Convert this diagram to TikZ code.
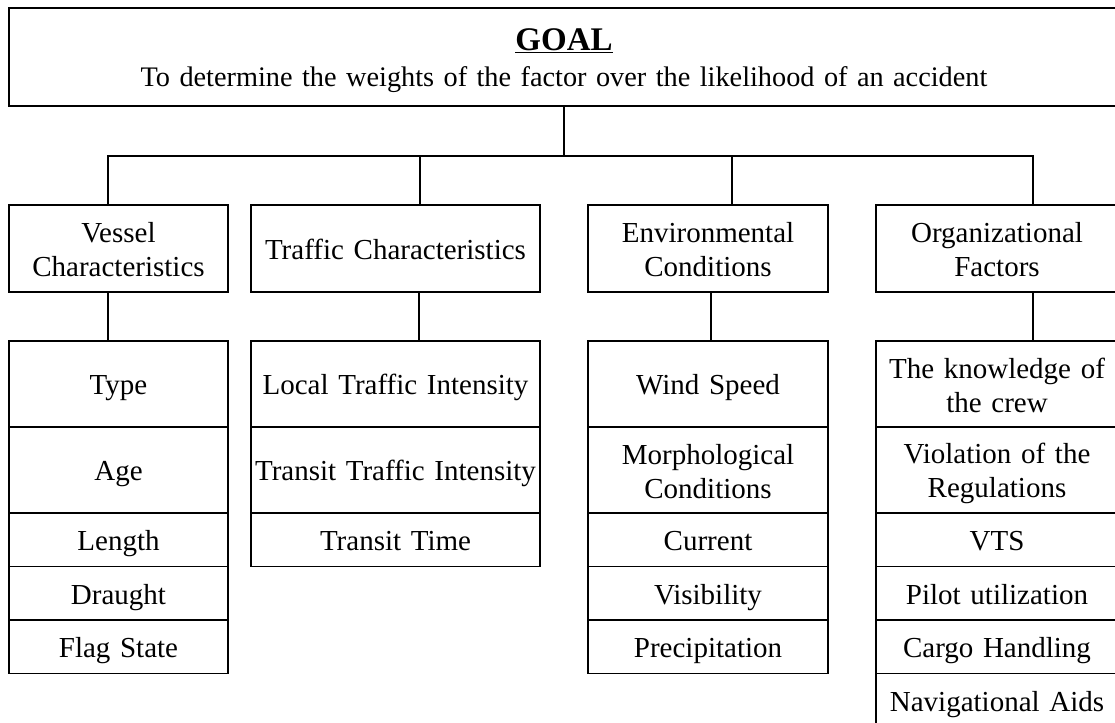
\documentclass[tikz,border=0pt]{standalone}
\usepackage{fontspec}
\setmainfont{Liberation Serif}
\usetikzlibrary{positioning}

\tikzset{
  box/.style={draw, line width=1.7pt, align=center, inner xsep=0pt, inner ysep=0pt,
    outer sep=0pt, font=\fontsize{29}{34}\selectfont,
    execute at begin node={\rule{0pt}{28pt}},
    execute at end node={\rule[-6pt]{0pt}{0pt}}},
  head/.style={box, minimum height=87pt},
  tall/.style={box, minimum height=86pt},
  short/.style={box, minimum height=53.5pt},
  link/.style={line width=1.7pt},
}

\begin{document}
\begin{tikzpicture}[x=1pt, y=-1pt]
      \useasboundingbox (0,0) rectangle (1115,722);
      \clip (0,0) rectangle (1115,722);
      % Define nodes
      \node[box, text width=1110pt, minimum height=98pt, font=\fontsize{28.3}{36}\selectfont,
        execute at begin node={\rule{0pt}{30pt}}]
        (goal) at (564,57) {{\fontsize{33}{36}\selectfont\underline{\textbf{GOAL}}}\\To determine the weights of the factor over the likelihood of an accident};
      \node[head, text width=219pt] (vessel)  at (118.5,248.5) {Vessel\\Characteristics};
      \node[head, text width=289pt] (traffic) at (395.5,248.5) {Traffic Characteristics};
      \node[head, text width=240pt] (env)     at (708,248.5)   {Environmental\\Conditions};
      \node[head, text width=242pt] (org)     at (997,248.5)   {Organizational\\Factors};
      % Vessel column
      \node[tall, text width=219pt, below=49pt of vessel] (vtype)   {Type};
      \node[tall, text width=219pt, below=0pt of vtype]   (vage)    {Age};
      \node[short, text width=219pt, below=0pt of vage]   (vlength) {Length};
      \node[short, text width=219pt, below=0pt of vlength] (vdraught) {Draught};
      \node[short, text width=219pt, below=0pt of vdraught] (vflag) {Flag State};
      % Traffic column
      \node[tall, text width=289pt, below=49pt of traffic] (tlocal)   {Local Traffic Intensity};
      \node[tall, text width=289pt, below=0pt of tlocal]   (ttransit) {Transit Traffic Intensity};
      \node[short, text width=289pt, below=0pt of ttransit] (ttime)   {Transit Time};
      % Environmental column
      \node[tall, text width=240pt, below=49pt of env]   (ewind)    {Wind Speed};
      \node[tall, text width=240pt, below=0pt of ewind]  (emorph)   {Morphological\\Conditions};
      \node[short, text width=240pt, below=0pt of emorph] (ecurrent) {Current};
      \node[short, text width=240pt, below=0pt of ecurrent] (evis)   {Visibility};
      \node[short, text width=240pt, below=0pt of evis]   (eprec)    {Precipitation};
      % Organizational column
      \node[tall, text width=242pt, below=49pt of org]   (oknow)    {The knowledge of\\the crew};
      \node[tall, text width=242pt, below=0pt of oknow]  (oviol)    {Violation of the\\Regulations};
      \node[short, text width=242pt, below=0pt of oviol] (ovts)     {VTS};
      \node[short, text width=242pt, below=0pt of ovts]  (opilot)   {Pilot utilization};
      \node[short, text width=242pt, below=0pt of opilot] (ocargo)  {Cargo Handling};
      \node[short, text width=242pt, below=0pt of ocargo] (onav)    {Navigational Aids};
      % Connectors
      \coordinate (hub) at (564,156);
      \draw[link] (goal.south) -- (hub);
      \draw[link] (hub) -| ([xshift=-10.5pt]vessel.north);
      \draw[link] (hub) -| ([xshift=24.5pt]traffic.north);
      \draw[link] (hub) -| ([xshift=24pt]env.north);
      \draw[link] (hub) -| ([xshift=36pt]org.north);
      \draw[link, line width=2.4pt] ([xshift=-10.5pt]vessel.south) -- ([xshift=-10.5pt]vtype.north);
      \draw[link] ([xshift=23.5pt]traffic.south) -- ([xshift=23.5pt]tlocal.north);
      \draw[link] ([xshift=3pt]env.south) -- ([xshift=3pt]ewind.north);
      \draw[link] ([xshift=36pt]org.south) -- ([xshift=36pt]oknow.north);
    \end{tikzpicture}
\end{document}
